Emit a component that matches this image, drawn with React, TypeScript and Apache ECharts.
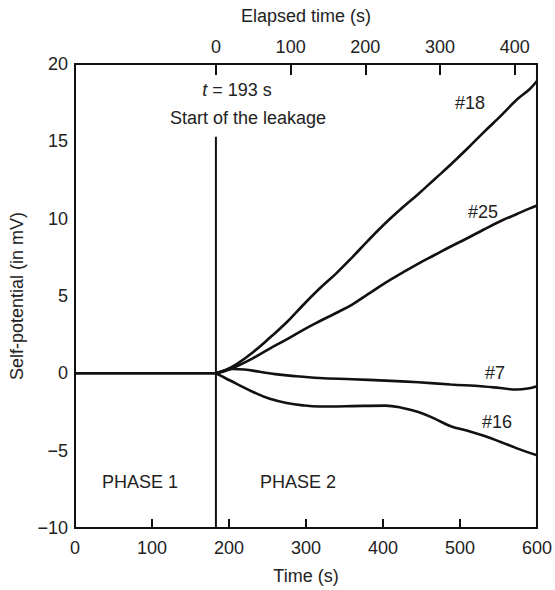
import { useEffect, useRef } from "react";
import * as echarts from "echarts";

// Bottom axis: time since the start of the record (s)
const timeMin = 0;
const timeMax = 600;
const timeStep = 100;

// Top axis: time elapsed since the leakage began (s)
const elapsedTicks = [0, 100, 200, 300, 400];
const elapsedMin = -188.6;
const elapsedMax = 429.7;

// Self-potential axis (mV)
const spMin = -10;
const spMax = 20;
const spStep = 5;

// Moment the leakage starts, on the time axis
const leakTime = 183;
const leakMarkerTop = 15.3;

// Phase 1: all electrodes stay flat
const phase1: number[][] = [
  [0, 0],
  [leakTime, 0],
];

// Phase 2 records, [time (s), self-potential (mV)]
const electrode18: number[][] = [
  [183, 0], [195, 0.2], [210, 0.6], [232, 1.4], [253, 2.3], [275, 3.3],
  [296, 4.4], [317, 5.45], [339, 6.45], [360, 7.5], [380, 8.55], [403, 9.7],
  [425, 10.7], [446, 11.6], [467, 12.55], [488, 13.5], [510, 14.55],
  [531, 15.6], [553, 16.65], [574, 17.7], [590, 18.35], [600, 18.9],
];

const electrode25: number[][] = [
  [183, 0], [195, 0.15], [210, 0.45], [232, 1.0], [253, 1.6], [275, 2.2],
  [296, 2.8], [317, 3.35], [339, 3.9], [360, 4.45], [380, 5.1], [403, 5.85],
  [425, 6.5], [446, 7.1], [467, 7.65], [488, 8.2], [510, 8.75], [531, 9.3],
  [553, 9.85], [574, 10.3], [590, 10.65], [600, 10.85],
];

const electrode7: number[][] = [
  [183, 0], [195, 0.2], [205, 0.28], [220, 0.25], [240, 0.1], [260, -0.05],
  [285, -0.18], [317, -0.3], [360, -0.38], [403, -0.47], [446, -0.58],
  [488, -0.72], [531, -0.85], [552, -0.95], [574, -1.05], [588, -0.98],
  [600, -0.83],
];

const electrode16: number[][] = [
  [183, 0], [195, -0.3], [210, -0.68], [232, -1.22], [253, -1.65],
  [275, -1.92], [296, -2.07], [317, -2.14], [340, -2.14], [360, -2.12],
  [403, -2.09], [424, -2.22], [446, -2.5], [467, -2.93], [488, -3.42],
  [510, -3.72], [531, -4.04], [552, -4.42], [574, -4.85], [600, -5.3],
];

const FONT = '"Liberation Sans", Arial, Helvetica, sans-serif';
const INK = "#111";
const TEXT = "#222";
const FS = 18;

const curve = (name: string, data: number[][]) => ({
  name,
  type: "line",
  xAxisIndex: 0,
  yAxisIndex: 0,
  data,
  smooth: 0.4,
  showSymbol: false,
  lineStyle: { color: INK, width: 2.6 },
  z: 3,
});

const label = (text: string, x: number, y: number, extra: any = {}) => ({
  type: "text",
  x,
  y,
  silent: true,
  style: {
    text,
    fill: TEXT,
    fontSize: FS,
    fontFamily: FONT,
    align: "center",
    verticalAlign: "middle",
    textAlign: "center",
    textVerticalAlign: "middle",
    ...extra,
  },
});

export default function App() {
  const ref = useRef<HTMLDivElement>(null);

  useEffect(() => {
    document.body.style.margin = "0";
    if (!ref.current) return;
    const chart = echarts.init(ref.current, null, { renderer: "svg" });

    const axisText = { color: TEXT, fontSize: FS, fontFamily: FONT };

    chart.setOption({
      animation: false,
      backgroundColor: "#fff",
      grid: {
        left: 69,
        right: 18,
        top: 64,
        bottom: 58,
        show: true,
        borderColor: INK,
        borderWidth: 2,
        backgroundColor: "transparent",
      },
      xAxis: [
        {
          type: "value",
          position: "bottom",
          min: timeMin,
          max: timeMax,
          interval: timeStep,
          name: "Time (s)",
          nameLocation: "middle",
          nameGap: 39,
          nameTextStyle: axisText,
          splitLine: { show: false },
          axisLine: { show: false, onZero: false },
          axisTick: {
            show: true,
            inside: true,
            length: 9,
            lineStyle: { color: INK, width: 2 },
          },
          axisLabel: { ...axisText, margin: 11 },
        },
        {
          type: "value",
          position: "top",
          min: elapsedMin,
          max: elapsedMax,
          name: "Elapsed time (s)",
          nameLocation: "middle",
          nameGap: 39,
          nameTextStyle: axisText,
          splitLine: { show: false },
          axisLine: { show: false, onZero: false },
          axisTick: {
            show: true,
            inside: true,
            length: 11,
            customValues: elapsedTicks,
            lineStyle: { color: INK, width: 2 },
          },
          axisLabel: { ...axisText, margin: 8, customValues: elapsedTicks },
        },
      ],
      yAxis: {
        type: "value",
        min: spMin,
        max: spMax,
        interval: spStep,
        name: "Self-potential (in mV)",
        nameLocation: "middle",
        nameGap: 49,
        nameTextStyle: axisText,
        splitLine: { show: false },
        axisLine: { show: false, onZero: false },
        axisTick: { show: false },
        axisLabel: {
          ...axisText,
          margin: 7,
          formatter: (v: number) => String(v).replace("-", "\u2212"),
        },
      },
      series: [
        curve("Phase 1", phase1),
        curve("#18", electrode18),
        curve("#25", electrode25),
        curve("#7", electrode7),
        curve("#16", electrode16),
        {
          name: "Leakage start",
          type: "line",
          xAxisIndex: 1,
          yAxisIndex: 0,
          data: [
            [0, leakMarkerTop],
            [0, spMin],
          ],
          showSymbol: false,
          lineStyle: { color: INK, width: 2 },
          z: 2,
        },
      ],
      graphic: [
        label("{it|t} = 193 s", 237, 90, {
          rich: { it: { fontStyle: "italic", fontSize: FS, fontFamily: FONT, fill: TEXT } },
        }),
        label("Start of the leakage", 248, 118),
        label("#18", 470, 103),
        label("#25", 483, 212),
        label("#7", 495, 373),
        label("#16", 497, 422),
        label("PHASE 1", 140, 482),
        label("PHASE 2", 298, 482),
      ],
    });

    return () => chart.dispose();
  }, []);

  return (
    <div
      ref={ref}
      style={{ position: "fixed", left: 0, top: 0, width: 555, height: 590 }}
    />
  );
}
